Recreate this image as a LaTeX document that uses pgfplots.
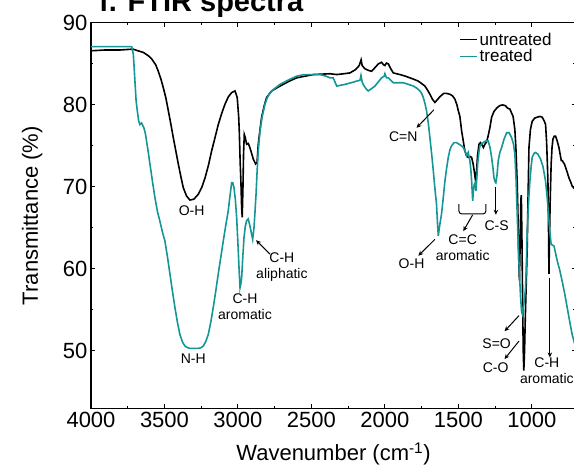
\documentclass[border=0pt]{standalone}
\usepackage{fontspec}
\setmainfont{Liberation Sans}
\usepackage{pgfplots}
\pgfplotsset{compat=1.18}
\usetikzlibrary{arrows.meta}
\definecolor{tealc}{RGB}{20,150,150}
\begin{document}
\begin{tikzpicture}[x=1pt,y=1pt]
\useasboundingbox (0,0) rectangle (574,466);
\clip (0,0) rectangle (574,466);
\node[anchor=base west, font=\fontsize{29}{34}\selectfont\bfseries, inner sep=0pt] at (99,454) {f. FTIR spectra};
\begin{axis}[
  at={(91pt,57.7pt)}, anchor=south west, scale only axis,
  width=485pt, height=385.4pt,
  x dir=reverse, xmin=700, xmax=4000, ymin=43, ymax=90,
  xtick={1000,1500,...,4000}, ytick={50,60,...,90},
  minor x tick num=1, minor y tick num=1,
  major tick length=4pt, minor tick length=2.5pt,
  axis line style={line width=1.2pt},
  tick style={line width=1pt, black},
  tick label style={font=\fontsize{22}{26}\selectfont},
  /pgf/number format/assume math mode=true,
  /pgf/number format/1000 sep={},
  xlabel={Wavenumber (cm\textsuperscript{-1})},
  ylabel={Transmittance (\%)},
  label style={font=\fontsize{22}{26}\selectfont},
  xlabel style={at={(axis description cs:0.5,-0.1367)}, anchor=base},
  ylabel style={at={(axis description cs:-0.1093,0.5)}, anchor=base},
  legend style={at={(0.953,0.979)}, anchor=north east, draw=none, fill=none,
    font=\fontsize{17}{20}\selectfont, row sep=0pt, inner sep=0pt, nodes={inner sep=1.5pt}},
  legend cell align=left,
  legend image code/.code={\draw[#1] (0pt,0pt) -- (17pt,0pt);},
]
\addplot[black, line width=1.6pt] table[x=wn, y=T] {
wn T
4000 86.6
3900 86.7
3800 86.7
3715 86.8
3680 86.6
3644 86.4
3610 86.0
3587 85.6
3560 84.9
3542 84.1
3525 83.2
3508 82.1
3490 80.8
3474 79.3
3457 77.7
3440 76.0
3423 74.4
3406 72.8
3389 71.3
3372 69.9
3350 68.9
3327 68.4
3300 68.5
3270 69.1
3245 70.0
3224 71.1
3200 72.7
3179 74.4
3155 76.1
3134 77.6
3110 79.0
3088 80.1
3065 81.0
3043 81.5
3020 81.7
3005 80.9
2995 78.5
2991 76.8
2985 73.0
2980 70.7
2975 67.5
2971 66.3
2966 70.0
2962 74.0
2957 76.4
2950 76.0
2941 75.2
2930 75.3
2923 75.0
2912 74.4
2896 73.4
2880 72.8
2870 73.0
2862 75.2
2850 77.0
2839 78.5
2820 80.0
2805 80.9
2771 81.7
2714 82.3
2650 82.9
2601 83.3
2488 83.7
2374 83.8
2328 83.7
2280 83.8
2238 83.9
2200 84.3
2175 84.8
2162 85.5
2155 84.8
2136 84.4
2110 84.2
2091 84.1
2070 84.5
2045 85.0
2023 85.2
2010 84.9
2000 84.8
1990 85.1
1977 85.0
1960 84.4
1943 83.9
1898 83.7
1860 83.5
1830 83.3
1800 83.1
1773 82.9
1750 82.6
1728 82.3
1710 81.8
1694 81.3
1677 80.7
1660 80.3
1645 80.6
1626 81.0
1600 81.4
1580 81.4
1558 81.3
1540 81.1
1524 80.7
1510 80.0
1501 79.3
1490 78.6
1478 76.8
1467 75.6
1456 74.4
1445 73.8
1433 73.6
1420 73.7
1410 73.6
1400 72.8
1392 71.9
1383 70.7
1376 72.0
1370 73.8
1360 75.2
1350 75.4
1342 75.2
1330 74.8
1320 75.2
1308 75.5
1298 76.2
1286 77.2
1274 78.5
1258 79.2
1240 79.6
1220 79.9
1200 80.0
1180 79.9
1165 79.6
1150 79.5
1138 79.0
1128 78.6
1116 77.0
1109 74.8
1100 70.5
1095 66.7
1090 61.5
1085 58.6
1080 63.0
1075 68.5
1072 69.0
1068 64.0
1063 56.0
1059 50.0
1055 47.6
1050 50.0
1045 54.0
1038 58.5
1032 62.6
1026 69.0
1020 74.8
1010 77.0
998 78.0
980 78.4
964 78.5
945 78.6
930 78.5
915 78.0
907 77.6
900 75.5
895 73.0
891 70.7
887 65.0
884 59.4
881 63.0
876 68.0
869 72.8
863 74.8
857 75.8
848 76.2
839 76.2
828 75.6
816 74.8
808 74.0
800 73.2
793 73.2
787 73.0
779 72.8
771 72.4
760 71.8
748 71.1
736 70.6
726 70.1
712 69.8
700 69.6
};
\addplot[tealc, line width=1.6pt] table[x=wn, y=T] {
wn T
4000 87.1
3900 87.1
3800 87.1
3723 87.1
3712 86.2
3701 82.9
3693 80.5
3685 79.3
3675 78.0
3667 77.6
3656 77.8
3648 77.5
3640 77.2
3630 76.5
3622 75.6
3610 74.2
3599 72.8
3582 70.7
3565 68.7
3548 67.0
3531 65.8
3514 64.5
3497 63.4
3480 61.5
3463 59.4
3446 57.3
3429 55.3
3412 53.5
3395 52.0
3378 51.1
3361 50.6
3344 50.4
3327 50.3
3300 50.3
3270 50.3
3250 50.4
3236 50.6
3220 51.1
3202 52.0
3185 53.5
3168 55.3
3151 57.3
3134 59.4
3117 61.4
3100 63.4
3083 65.3
3066 67.1
3055 68.8
3043 70.5
3035 70.5
3027 69.9
3018 68.5
3009 66.3
3000 63.0
2993 60.2
2986 57.7
2980 58.2
2975 58.9
2967 61.5
2959 63.8
2950 65.2
2941 65.9
2930 66.1
2918 65.2
2908 64.3
2900 63.6
2891 65.0
2884 67.0
2877 69.1
2870 71.8
2862 74.4
2850 76.8
2835 78.6
2816 80.1
2800 80.9
2782 81.5
2750 82.0
2714 82.5
2650 83.1
2601 83.5
2550 83.7
2488 83.7
2442 83.7
2400 83.5
2374 83.3
2352 83.3
2340 82.8
2328 82.3
2300 82.4
2272 82.5
2230 82.7
2193 82.9
2170 83.0
2163 83.6
2155 82.8
2148 82.5
2130 82.0
2114 81.7
2090 82.0
2068 82.3
2045 82.8
2023 83.3
2005 83.5
2000 83.8
1990 83.3
1977 83.3
1960 83.0
1943 82.7
1875 82.7
1840 82.5
1807 82.3
1780 82.0
1762 81.7
1750 81.4
1739 80.9
1728 80.2
1717 79.3
1705 77.8
1694 76.0
1682 74.0
1671 72.0
1660 69.8
1649 67.9
1642 65.5
1637 64.0
1630 65.0
1615 66.7
1604 68.5
1592 70.7
1580 72.3
1569 73.6
1558 74.5
1547 75.0
1530 75.4
1513 75.4
1495 75.2
1478 75.0
1467 74.8
1456 74.4
1444 73.8
1433 74.2
1422 73.2
1415 72.0
1410 70.7
1403 68.3
1397 69.8
1392 70.3
1386 70.5
1381 69.5
1375 71.0
1369 72.8
1360 74.3
1354 75.0
1340 75.3
1331 75.4
1315 75.6
1297 75.6
1285 74.8
1274 73.6
1265 72.3
1258 71.1
1250 70.6
1245 70.5
1237 71.5
1229 73.2
1218 74.2
1206 74.8
1190 75.8
1172 76.6
1155 76.6
1138 76.0
1125 75.2
1116 74.0
1108 71.0
1100 66.7
1092 62.5
1085 59.5
1077 56.5
1070 54.8
1065 54.5
1058 55.3
1050 56.5
1043 57.7
1037 61.0
1032 64.6
1023 68.0
1014 70.7
1005 72.5
998 73.6
985 74.1
975 74.2
960 74.0
941 73.4
925 72.5
907 70.7
895 68.5
884 65.9
876 64.2
869 63.0
860 62.9
850 62.8
840 62.0
828 61.0
810 59.8
794 58.5
777 57.0
760 55.3
743 53.6
726 52.0
714 51.2
700 50.2
};
\legend{untreated,treated}
% annotations
\begin{scope}[font=\fontsize{14}{16.6}\selectfont, every node/.style={inner sep=0pt, align=center}]
\node at (axis cs:3315,67.1) {O-H};
\node at (axis cs:3304,49.1) {N-H};
\node at (axis cs:2952,55.4) {C-H\\aromatic};
\node at (axis cs:2701,60.2) {C-H\\aliphatic};
\node at (axis cs:1875,76.1) {C=N};
\node at (axis cs:1819,60.6) {O-H};
\node at (axis cs:1471,62.6) {C=C\\aromatic};
\node at (axis cs:1240,65.3) {C-S};
\node at (axis cs:1240,50.9) {S=O};
\node at (axis cs:1247,48.0) {C-O};
\node at (axis cs:898,47.6) {C-H\\aromatic};
\end{scope}
\begin{scope}[line width=1pt, -{Stealth[length=5pt,width=4.5pt]}]
\draw (axis cs:2782,61.8) -- (axis cs:2877,63.5);
\draw (axis cs:1667,79.4) -- (axis cs:1785,77.2);
\draw (axis cs:1660,63.6) -- (axis cs:1773,61.6);
\draw (axis cs:1403,66.6) -- (axis cs:1467,64.6);
\draw (axis cs:1245,70.0) -- (axis cs:1245,66.6);
\draw (axis cs:1088,54.3) -- (axis cs:1186,52.4);
\draw (axis cs:1088,51.2) -- (axis cs:1186,49.0);
\draw (axis cs:878,58.9) -- (axis cs:878,49.2);
\end{scope}
\draw[line width=1pt, rounded corners=3pt] (axis cs:1497,67.9) -- (axis cs:1497,66.7) -- (axis cs:1313,66.7) -- (axis cs:1313,67.9);
\end{axis}
\end{tikzpicture}
\end{document}
